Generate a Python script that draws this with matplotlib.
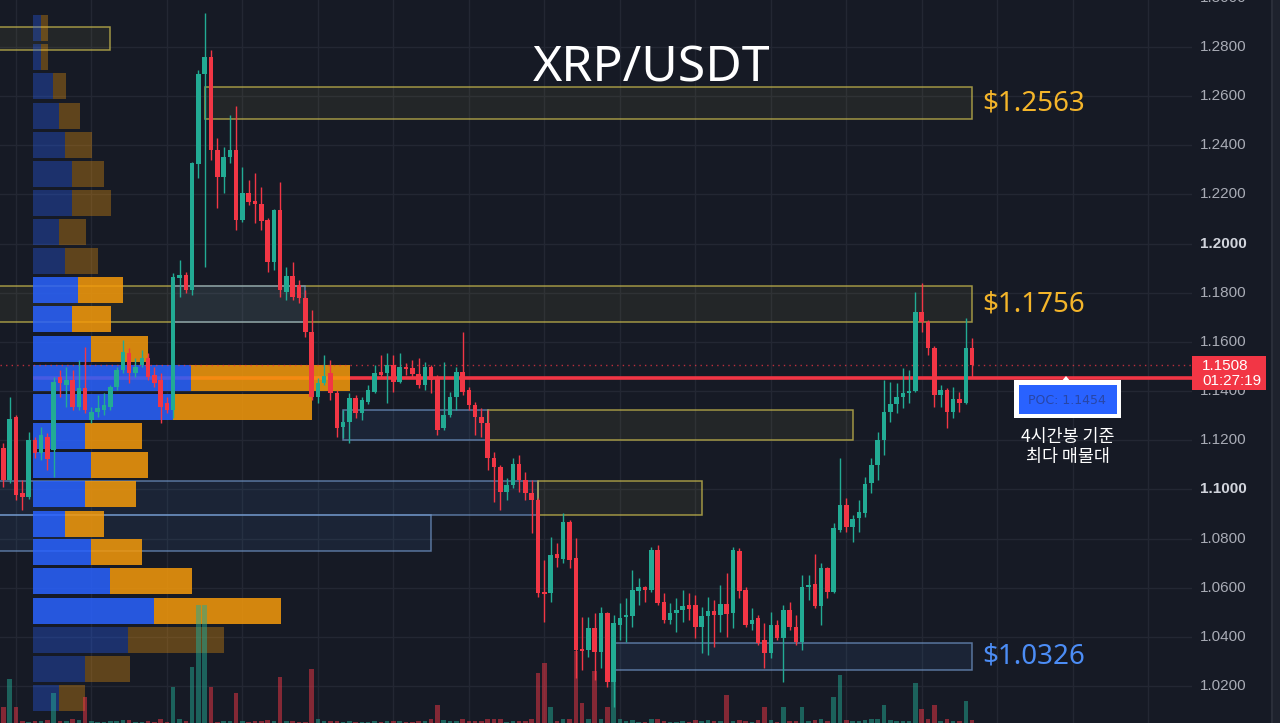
import matplotlib
matplotlib.use('Agg')
import matplotlib.pyplot as plt
from matplotlib.patches import Rectangle, Polygon
import numpy as np

W, H = 1280, 723
BG = '#161A25'
GRID = '#232733'
UP = '#22AB94'
DN = '#F23645'

# ---------------- data: XRP/USDT 4h candles ----------------
opens = [1.1168, 1.1038, 1.1294, 1.0984, 1.0968, 1.1200, 1.1147, 1.1212, 1.1160, 1.1457,
         1.1424, 1.1444, 1.1334, 1.1412, 1.1282, 1.1314, 1.1322, 1.1334, 1.1416, 1.1485,
         1.1554, 1.1473, 1.1505, 1.1534, 1.1465, 1.1444, 1.1351, 1.1322, 1.1860, 1.1872,
         1.1811, 1.2324, 1.2690, 1.2759, 1.2381, 1.2271, 1.2352, 1.2381, 1.2096, 1.2206,
         1.2173, 1.2161, 1.2096, 1.1925, 1.2136, 1.1803, 1.1868, 1.1831, 1.1778, 1.1640,
         1.1375, 1.1432, 1.1473, 1.1392, 1.1253, 1.1273, 1.1371, 1.1310, 1.1355, 1.1396,
         1.1477, 1.1473, 1.1505, 1.1436, 1.1497, 1.1493, 1.1469, 1.1424, 1.1497, 1.1457,
         1.1249, 1.1302, 1.1375, 1.1477, 1.1404, 1.1343, 1.1294, 1.1269, 1.1127, 1.1090,
         1.0989, 1.1017, 1.1103, 1.1038, 1.0984, 1.0956, 1.0582, 1.0578, 1.0736, 1.0716,
         1.0866, 1.0720, 1.0350, 1.0346, 1.0435, 1.0337, 1.0496, 1.0215, 1.0447, 1.0480,
         1.0484, 1.0586, 1.0602, 1.0590, 1.0753, 1.0541, 1.0468, 1.0496, 1.0508, 1.0529,
         1.0529, 1.0439, 1.0484, 1.0504, 1.0488, 1.0533, 1.0496, 1.0748, 1.0590, 1.0451,
         1.0476, 1.0386, 1.0333, 1.0447, 1.0394, 1.0508, 1.0439, 1.0378, 1.0602, 1.0614,
         1.0525, 1.0679, 1.0582, 1.0834, 1.0936, 1.0846, 1.0883, 1.0903, 1.1025, 1.1098,
         1.1200, 1.1314, 1.1347, 1.1375, 1.1392, 1.1400, 1.1721, 1.1680, 1.1575, 1.1383,
         1.1404, 1.1314, 1.1367, 1.1351, 1.1575]
highs = [1.1188, 1.1375, 1.1302, 1.1038, 1.1233, 1.1212, 1.1253, 1.1229, 1.1457, 1.1485,
         1.1497, 1.1485, 1.1526, 1.1579, 1.1334, 1.1383, 1.1392, 1.1424, 1.1497, 1.1607,
         1.1575, 1.1534, 1.1567, 1.1554, 1.1497, 1.1473, 1.1375, 1.1880, 1.1933, 1.1884,
         1.2332, 1.2706, 1.2938, 1.2788, 1.2429, 1.2393, 1.2523, 1.2560, 1.2311, 1.2258,
         1.2287, 1.2230, 1.2104, 1.2140, 1.2250, 1.1904, 1.1925, 1.1851, 1.1811, 1.1729,
         1.1453, 1.1546, 1.1526, 1.1404, 1.1322, 1.1392, 1.1383, 1.1375, 1.1424, 1.1505,
         1.1546, 1.1554, 1.1546, 1.1554, 1.1514, 1.1526, 1.1534, 1.1518, 1.1505, 1.1465,
         1.1518, 1.1396, 1.1497, 1.1640, 1.1416, 1.1355, 1.1330, 1.1322, 1.1151, 1.1098,
         1.1046, 1.1127, 1.1139, 1.1070, 1.1038, 1.0964, 1.0712, 1.0805, 1.0781, 1.0903,
         1.0874, 1.0801, 1.0480, 1.0480, 1.0496, 1.0521, 1.0500, 1.0488, 1.0537, 1.0557,
         1.0671, 1.0638, 1.0606, 1.0765, 1.0773, 1.0578, 1.0537, 1.0557, 1.0590, 1.0578,
         1.0569, 1.0521, 1.0561, 1.0549, 1.0610, 1.0659, 1.0765, 1.0761, 1.0602, 1.0516,
         1.0488, 1.0455, 1.0500, 1.0468, 1.0529, 1.0541, 1.0488, 1.0651, 1.0651, 1.0736,
         1.0700, 1.0683, 1.0862, 1.1127, 1.0964, 1.0895, 1.0956, 1.1050, 1.1127, 1.1233,
         1.1444, 1.1436, 1.1432, 1.1493, 1.1485, 1.1803, 1.1839, 1.1689, 1.1583, 1.1424,
         1.1412, 1.1416, 1.1396, 1.1697, 1.1615]
lows = [1.1009, 1.1026, 1.0956, 1.0915, 1.0960, 1.1127, 1.1119, 1.1078, 1.1050, 1.1375,
        1.1334, 1.1322, 1.1322, 1.1310, 1.1269, 1.1294, 1.1302, 1.1322, 1.1404, 1.1473,
        1.1432, 1.1457, 1.1497, 1.1444, 1.1416, 1.1269, 1.1310, 1.1290, 1.1782, 1.1799,
        1.1790, 1.2267, 1.1904, 1.2340, 1.2144, 1.2206, 1.2328, 1.2055, 1.2087, 1.2157,
        1.2083, 1.2055, 1.1884, 1.1892, 1.1782, 1.1770, 1.1770, 1.1758, 1.1619, 1.1363,
        1.1351, 1.1424, 1.1363, 1.1212, 1.1208, 1.1188, 1.1290, 1.1282, 1.1347, 1.1392,
        1.1453, 1.1351, 1.1396, 1.1432, 1.1465, 1.1457, 1.1412, 1.1404, 1.1392, 1.1221,
        1.1241, 1.1294, 1.1322, 1.1383, 1.1322, 1.1221, 1.1212, 1.1078, 1.0948, 1.0915,
        1.0956, 1.1005, 1.0989, 1.0956, 1.0822, 1.0561, 1.0459, 1.0541, 1.0683, 1.0700,
        1.0679, 1.0232, 1.0264, 1.0317, 1.0223, 1.0272, 1.0195, 1.0114, 1.0386, 1.0378,
        1.0439, 1.0529, 1.0541, 1.0582, 1.0529, 1.0455, 1.0451, 1.0419, 1.0459, 1.0468,
        1.0394, 1.0333, 1.0325, 1.0358, 1.0419, 1.0398, 1.0435, 1.0557, 1.0439, 1.0427,
        1.0366, 1.0272, 1.0313, 1.0386, 1.0215, 1.0427, 1.0366, 1.0346, 1.0549, 1.0516,
        1.0447, 1.0557, 1.0578, 1.0826, 1.0826, 1.0785, 1.0826, 1.0887, 1.0984, 1.1038,
        1.1139, 1.1273, 1.1310, 1.1330, 1.1351, 1.1396, 1.1640, 1.1546, 1.1334, 1.1334,
        1.1249, 1.1290, 1.1314, 1.1347, 1.1457]
closes = [1.1038, 1.1286, 1.0976, 1.0968, 1.1200, 1.1147, 1.1221, 1.1123, 1.1436, 1.1432,
          1.1444, 1.1334, 1.1412, 1.1322, 1.1314, 1.1330, 1.1343, 1.1416, 1.1485, 1.1558,
          1.1473, 1.1497, 1.1534, 1.1457, 1.1432, 1.1334, 1.1322, 1.1864, 1.1872, 1.1811,
          1.2328, 1.2690, 1.2759, 1.2381, 1.2271, 1.2352, 1.2381, 1.2096, 1.2206, 1.2169,
          1.2161, 1.2092, 1.1925, 1.2136, 1.1811, 1.1868, 1.1782, 1.1778, 1.1640, 1.1375,
          1.1432, 1.1461, 1.1392, 1.1249, 1.1273, 1.1371, 1.1310, 1.1363, 1.1404, 1.1473,
          1.1465, 1.1505, 1.1436, 1.1497, 1.1489, 1.1469, 1.1424, 1.1497, 1.1444, 1.1241,
          1.1302, 1.1375, 1.1477, 1.1396, 1.1343, 1.1294, 1.1269, 1.1127, 1.1090, 1.0989,
          1.1017, 1.1103, 1.1038, 1.0984, 1.0956, 1.0578, 1.0573, 1.0732, 1.0720, 1.0866,
          1.0712, 1.0346, 1.0341, 1.0435, 1.0337, 1.0496, 1.0215, 1.0455, 1.0476, 1.0488,
          1.0590, 1.0602, 1.0590, 1.0753, 1.0537, 1.0468, 1.0496, 1.0508, 1.0525, 1.0512,
          1.0439, 1.0484, 1.0504, 1.0488, 1.0533, 1.0492, 1.0753, 1.0586, 1.0447, 1.0468,
          1.0374, 1.0333, 1.0447, 1.0394, 1.0508, 1.0439, 1.0378, 1.0602, 1.0610, 1.0525,
          1.0679, 1.0582, 1.0842, 1.0936, 1.0846, 1.0879, 1.0907, 1.1021, 1.1098, 1.1200,
          1.1314, 1.1347, 1.1375, 1.1392, 1.1400, 1.1721, 1.1680, 1.1575, 1.1383, 1.1404,
          1.1314, 1.1367, 1.1351, 1.1575, 1.1508]
volumes = [8, 22, 8, 1, 0.7, 1, 1, 1.4, 15, 1, 1, 1.8, 1.4, 13, 1, 0.7, 0.7, 1, 1, 1.4,
           1.4, 0.7, 0.7, 1, 0.7, 1.8, 0.7, 18, 1.8, 1, 28, 59, 59, 18, 0.7, 1, 1, 15, 1, 0.7,
           1, 1, 1.4, 1, 23, 1, 1, 0.7, 0.7, 27, 2.2, 1, 1, 1, 0.7, 1, 0.7, 0.7, 0.7, 1,
           0.7, 1, 1, 1, 0.7, 0.7, 1, 1, 2.2, 9, 1.4, 1, 1, 1.8, 1, 1, 1, 2.2, 2.2, 1.8,
           0.7, 1, 1, 1, 1.8, 25, 30, 8, 1, 2.2, 1.8, 36, 10, 1.8, 26, 1.8, 8, 21, 1.8, 1,
           1.4, 0.7, 0.7, 1.8, 2.2, 1, 0.7, 0.7, 1, 0.7, 1.4, 1, 1.4, 1, 1, 14, 1, 1.4, 1, 0.7,
           1.4, 8, 1.4, 0.7, 8, 1, 1, 8, 1, 1.4, 1.8, 1, 13, 24, 1.4, 1, 1, 1.4, 1.8, 2.2,
           9, 1.4, 1, 1, 1, 20, 7, 1.8, 9, 1, 1.8, 1, 1, 11, 1.4]

# volume profile (rows: upper price edge, up volume, down volume)
vp_top = [1.2930, 1.2812, 1.2694, 1.2572, 1.2454, 1.2336, 1.2218, 1.2100, 1.1982, 1.1864,
          1.1746, 1.1624, 1.1505, 1.1387, 1.1269, 1.1151, 1.1033, 1.0911, 1.0797, 1.0679,
          1.0557, 1.0439, 1.0321, 1.0203]
vp_buy = [8, 8, 20, 26, 32, 39, 39, 26, 32, 45, 39, 58, 158, 140, 52, 58, 52, 32, 58, 77,
          121, 95, 52, 26]
vp_sell = [7, 7, 13, 21, 27, 32, 39, 27, 33, 45, 39, 57, 159, 139, 57, 57, 51, 39, 51, 82,
           127, 96, 45, 26]
VAH, VAL = 1.1864, 1.0451
POC = 1.1454

# zones: (low, high, start candle, end candle, kind)
zones = [
    (1.2788, 1.2881, -3, 17, 'y'),
    (1.2507, 1.2637, 32, 154, 'y'),
    (1.1680, 1.1827, -3, 154, 'y'),
    (1.1680, 1.1827, 27, 48, 'b'),
    (1.1200, 1.1322, 54, 77, 'b'),
    (1.1200, 1.1322, 77, 135, 'y'),
    (1.0895, 1.1033, -3, 85, 'b'),
    (1.0895, 1.1033, 85, 111, 'y'),
    (1.0748, 1.0895, -3, 68, 'b'),
    (1.0264, 1.0374, 97, 154, 'b'),
]
zone_labels = [('$1.2563', 1.2572, '#F4B52A'), ('$1.1756', 1.1754, '#F4B52A'),
               ('$1.0326', 1.0319, '#4C8DF6')]
price_ticks = [1.02, 1.04, 1.06, 1.08, 1.10, 1.12, 1.14, 1.16, 1.18, 1.20, 1.22, 1.24,
               1.26, 1.28, 1.30]

# ---------------- layout ----------------
YMIN, YMAX = 1.00493, 1.29912
X0PX, DXPX = 3.4, 6.29
CHART_R = 1192
XMIN = (0 - X0PX) / DXPX
XMAX = (CHART_R - X0PX) / DXPX


def px2i(px):
    return (px - X0PX) / DXPX


fig = plt.figure(figsize=(W / 100, H / 100), dpi=100, facecolor=BG)
rect = [0, 0, CHART_R / W, 1]
ax_bg = fig.add_axes(rect, zorder=0)
ax_vp = fig.add_axes([33 / W, 0, (CHART_R - 33) / W, 1], zorder=1)
ax_vol = fig.add_axes(rect, zorder=2)
ax = fig.add_axes(rect, zorder=3)
for a in (ax_bg, ax_vp, ax_vol, ax):
    a.set_axis_off()
    a.set_ylim(YMIN, YMAX)
for a in (ax_bg, ax_vol, ax):
    a.set_xlim(XMIN, XMAX)
ax_vp.set_xlim(0, CHART_R - 33)
ax_vol.set_ylim(0, 361.5)

# grid
for p in price_ticks:
    ax_bg.axhline(p, color=GRID, lw=1, zorder=0)
for gi in range(2, 189, 12):
    ax_bg.axvline(gi, color=GRID, lw=1, zorder=0)

# zones
for lo, hi, s, e, kind in zones:
    if kind == 'y':
        fc, ec = (0.85, 0.80, 0.35, 0.07), (0.80, 0.74, 0.30, 0.75)
    else:
        fc, ec = (0.25, 0.45, 0.70, 0.12), (0.45, 0.60, 0.80, 0.70)
    ax_bg.add_patch(Rectangle((s, lo), e - s, hi - lo, facecolor=fc, edgecolor=ec,
                              lw=1.1, zorder=2))

# volume profile
hrow = 0.0106
ax_vp.axhline(POC, color=DN, lw=2.6, zorder=1)
for top, b, s in zip(vp_top, vp_buy, vp_sell):
    bright = (top <= VAH + 1e-6) and (top - hrow >= VAL - 1e-6)
    al = 0.85 if bright else 0.33
    yc = top - hrow / 2
    ax_vp.barh(yc, b, height=hrow, left=0, color='#2962FF', alpha=al, lw=0, zorder=2)
    ax_vp.barh(yc, s, height=hrow, left=b, color='#F59A0A', alpha=al, lw=0, zorder=2)

# volume bars
idx = np.arange(len(opens))
o = np.array(opens); c = np.array(closes); hi_ = np.array(highs); lo_ = np.array(lows)
up = c >= o
vcol = [UP if u else DN for u in up]
ax_vol.bar(idx, volumes, width=0.72, color=vcol, alpha=0.5, lw=0)

# candles
ccol = [UP if u else DN for u in up]
ax.vlines(idx, lo_, hi_, colors=ccol, lw=1.0, zorder=3)
body_lo = np.minimum(o, c)
body_h = np.maximum(np.abs(c - o), 0.0004)
ax.bar(idx, body_h, bottom=body_lo, width=0.72, color=ccol, lw=0, zorder=4)

# current price dotted line
ax.axhline(closes[-1], color=DN, lw=1, ls=(0, (1, 3)), alpha=0.75, zorder=2)

# zone labels
for txt, yv, col in zone_labels:
    ax.text(px2i(982), yv, txt, color=col, fontsize=20, family='Noto Sans',
            ha='left', va='center', zorder=6)

# right price scale
ytr = ax.get_yaxis_transform()
for p in price_ticks:
    bold = abs(p - 1.10) < 1e-9 or abs(p - 1.20) < 1e-9
    ax.text(1200 / CHART_R, p, f'{p:.4f}', transform=ytr, ha='left', va='center',
            fontsize=11, family='Liberation Sans',
            color='#D1D4DC' if bold else '#A9ACB6',
            fontweight='bold' if bold else 'normal', clip_on=False, zorder=5)


def fx(px):
    return px / W


def fy(py):
    return 1 - py / H


# current price tag
fig.add_artist(Rectangle((fx(1192), fy(390)), 74 / W, 34 / H, transform=fig.transFigure,
                         facecolor=DN, edgecolor='none', zorder=10))
fig.text(fx(1202), fy(366), f'{closes[-1]:.4f}', color='white', fontsize=11,
         family='Liberation Sans', ha='left', va='center', zorder=11)
fig.text(fx(1202), fy(381), '01:27:19', color='white', fontsize=11,
         family='Liberation Sans', ha='left', va='center', zorder=11)

# right border
fig.add_artist(Rectangle((fx(1272), 0), 8 / W, 1, transform=fig.transFigure,
                         facecolor='#1E222D', edgecolor='none', zorder=10))
fig.add_artist(Rectangle((fx(1271), 0), 2 / W, 1, transform=fig.transFigure,
                         facecolor='#2A2E39', edgecolor='none', zorder=10))

# title
fig.text(fx(652), fy(68), 'XRP/USDT', color='white', fontsize=36, family='Noto Sans',
         ha='center', va='center', zorder=12)

# POC callout
fig.add_artist(Polygon([(fx(1061), fy(382)), (fx(1071), fy(382)), (fx(1066), fy(376))],
                       closed=True, transform=fig.transFigure, facecolor='white',
                       edgecolor='none', zorder=12))
fig.add_artist(Rectangle((fx(1014), fy(418)), 107 / W, 38 / H, transform=fig.transFigure,
                         facecolor='white', edgecolor='none', zorder=12))
fig.add_artist(Rectangle((fx(1019), fy(414)), 98 / W, 29 / H, transform=fig.transFigure,
                         facecolor='#2962FF', edgecolor='none', zorder=13))
fig.text(fx(1067), fy(401), f'POC: {POC:.4f}', color='#2846A6', fontsize=9,
         family='DejaVu Sans', ha='center', va='center', zorder=14)
fig.text(fx(1068), fy(437), '4시간봉 기준', color='white', fontsize=12.5,
         family=['Noto Sans CJK KR', 'DejaVu Sans'], ha='center', va='center', zorder=14)
fig.text(fx(1068), fy(457), '최다 매물대', color='white', fontsize=12.5,
         family=['Noto Sans CJK KR', 'DejaVu Sans'], ha='center', va='center', zorder=14)

fig.savefig('out.png', dpi=100, facecolor=BG)
